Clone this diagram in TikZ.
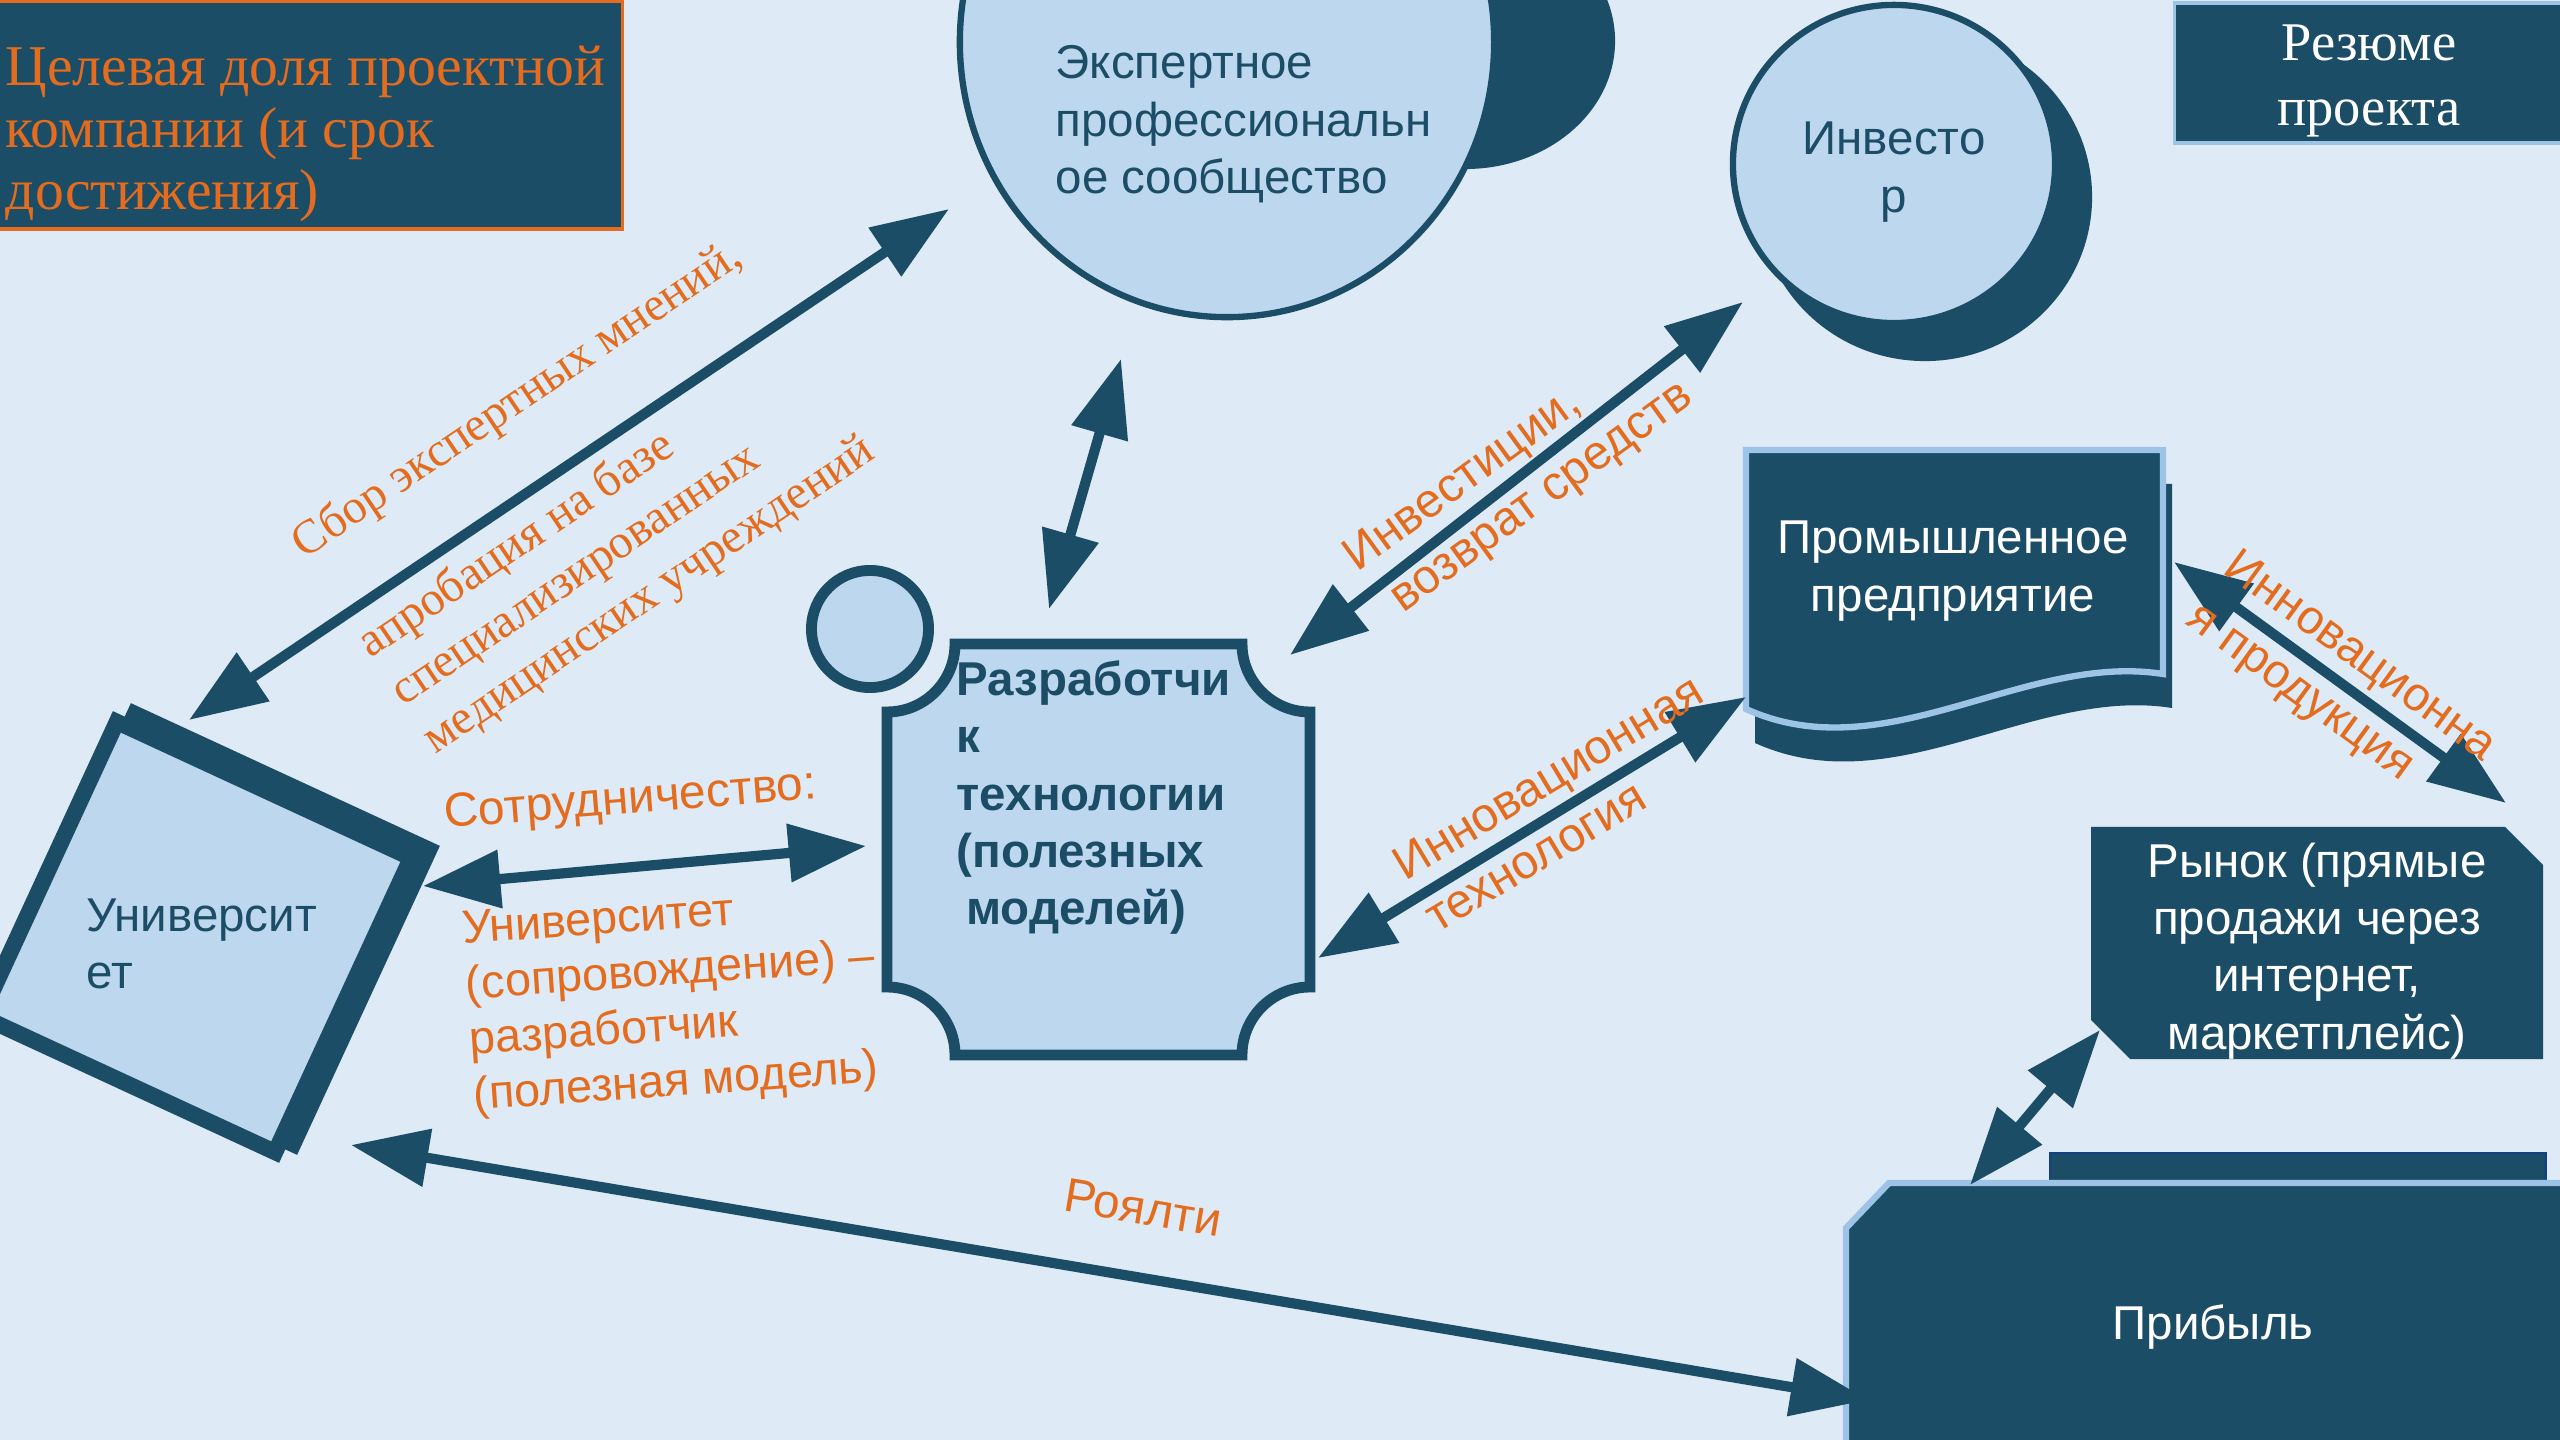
\documentclass[tikz,border=0pt]{standalone}
\usepackage{fontspec}
\setmainfont{Liberation Sans}
\newfontfamily\timesfont{Liberation Serif}
\usetikzlibrary{arrows.meta, shapes.geometric}

\definecolor{bgblue}{RGB}{222,234,246}
\definecolor{deepteal}{RGB}{28,77,102}
\definecolor{paleblue}{RGB}{189,215,238}
\definecolor{labelorange}{RGB}{228,108,30}
\definecolor{edgeblue}{RGB}{157,195,230}

\begin{document}
\begin{tikzpicture}[
    x=0.01cm, y=-0.01cm,
    bubble/.style={ellipse, draw=deepteal, line width=1.8pt, fill=paleblue, inner sep=0pt},
    shade/.style={ellipse, fill=deepteal, inner sep=0pt},
    card/.style={rectangle, fill=deepteal, inner sep=0pt},
    tile/.style={rectangle, draw=deepteal, line width=4.6pt, inner sep=0pt, minimum size=3.24cm, rotate=-24.8},
    body/.style={font=\fontsize{13.5}{16.3}\selectfont, inner sep=0pt},
    flow/.style={font=\fontsize{13.6}{17}\selectfont, text=labelorange, inner sep=0pt, align=left},
    link/.style={line width=2.9pt, draw=deepteal, {Triangle[length=22pt,width=16pt]}-{Triangle[length=22pt,width=16pt]}}
]

% Canvas
\fill[bgblue] (0,0) rectangle (2560,1440);
\useasboundingbox (0,0) rectangle (2560,1440);

% Goal and summary
\node[card, draw=labelorange, line width=0.9pt, minimum width=6.24cm, minimum height=2.28cm] (goal) at (310,115) {};
\node[anchor=north west, inner sep=0pt, align=left, text=labelorange, font=\timesfont\fontsize{16.4}{17.7}\selectfont] (goal-t) at (5,45) {Целевая доля проектной\\компании (и срок\\достижения)};
\node[card, draw=edgeblue, line width=0.9pt, minimum width=3.9cm, minimum height=1.4cm] (sum) at (2370,73) {};
\node[inner sep=0pt, align=center, text=white, font=\timesfont\fontsize{15.5}{18.3}\selectfont] (sum-t) at (2369,81) {Резюме\\проекта};

% Expert community
\node[shade, minimum width=3cm, minimum height=2.56cm] (exp-back) at (1465,41) {};
\node[bubble, minimum width=5.34cm, minimum height=5.5cm] (exp) at (1227,42) {};
\node[body, anchor=north west, align=left, text=deepteal] (exp-t) at (1055,45) {Экспертное\\профессиональн\\ое сообщество};

% Investor
\node[shade, minimum width=3.34cm, minimum height=3.28cm] (inv-back) at (1925,197) {};
\node[bubble, minimum width=3.22cm, minimum height=3.18cm] (inv) at (1894,164) {};
\node[body, text=deepteal, align=center] (inv-t) at (1894,172) {Инвесто\\р};

% University
\node[tile, fill=deepteal] (uni-back) at (214,929) {};
\node[tile, fill=paleblue] (uni) at (196,937) {};
\node[body, anchor=north west, align=left, text=deepteal] (uni-t) at (86,898) {Университ\\ет};

% Developer
\node[circle, draw=deepteal, line width=3.1pt, fill=paleblue, minimum size=1.17cm, inner sep=0pt] (dot) at (870,629) {};
\draw[deepteal, line width=3.1pt, fill=paleblue]
  (955,644) -- (1242,644) arc[start angle=180, end angle=90, radius=68]
  -- (1310,987) arc[start angle=270, end angle=180, radius=68]
  -- (955,1055) arc[start angle=0, end angle=-90, radius=68]
  -- (887,712) arc[start angle=90, end angle=0, radius=68] -- cycle;
\node[body, anchor=north west, align=left, text=deepteal, font=\bfseries\fontsize{13.5}{16.3}\selectfont] (dev) at (956,660) {Разработчи\\к\\технологии\\(полезных\\\hspace*{0.2em}моделей)};

% Industrial enterprise
\fill[deepteal] (1755,484) -- (2172,484) -- (2172,708) .. controls (2033,686) and (1894,806) .. (1755,743) -- cycle;
\draw[edgeblue, line width=1.8pt, fill=deepteal] (1746,450) -- (2163,450) -- (2163,674) .. controls (2024,652) and (1885,772) .. (1746,709) -- cycle;
\node[body, text=white, align=center] (ind) at (1953,571) {Промышленное\\предприятие};

% Market
\fill[deepteal] (2091,827) -- (2505,827) -- (2543,865) -- (2543,1059) -- (2130,1059) -- (2091,1020) -- cycle;
\node[body, text=white, align=center] (mkt) at (2317,951) {Рынок (прямые\\продажи через\\интернет,\\маркетплейс)};

% Profit
\draw[deepteal!80!blue, line width=0.6pt, fill=deepteal] (2050,1153) rectangle (2546,1183);
\draw[edgeblue, line width=1.8pt, fill=deepteal] (1846,1228) -- (1889,1183) -- (2575,1183) -- (2575,1445) -- (1846,1445) -- cycle;
\node[body, text=white] (profit) at (2213,1327) {Прибыль};

% Arrow ends
\coordinate (uni-a1) at (189,720);
\coordinate (exp-a1) at (949,209);
\coordinate (exp-a2) at (1121,359);
\coordinate (dev-a2) at (1049,609);
\coordinate (inv-a3) at (1743,302);
\coordinate (dev-a3) at (1290,655);
\coordinate (ind-a4) at (1746,697);
\coordinate (dev-a4) at (1318,958);
\coordinate (uni-a5) at (423,886);
\coordinate (dev-a5) at (866,846);
\coordinate (uni-a6) at (351,1145);
\coordinate (profit-a6) at (1868,1400);
\coordinate (ind-a7) at (2174,562);
\coordinate (mkt-a7) at (2506,803);
\coordinate (mkt-a8) at (2100,1030);
\coordinate (profit-a8) at (1970,1185);

% Arrows
\draw[link] (uni-a1) -- (exp-a1);
\draw[link] (exp-a2) -- (dev-a2);
\draw[link] (inv-a3) -- (dev-a3);
\draw[link] (ind-a4) -- (dev-a4);
\draw[link] (uni-a5) -- (dev-a5);
\draw[link] (uni-a6) -- (profit-a6);
\draw[link] (ind-a7) -- (mkt-a7);
\draw[link] (mkt-a8) -- (profit-a8);

% Labels
\node[flow, font=\timesfont\fontsize{13.6}{16.5}\selectfont, rotate=34, anchor=north west] (l-expert) at (284,531) {Сбор экспертных мнений,\\[17.5pt]апробация на базе\\специализированных\\медицинских учреждений};
\node[flow, rotate=4.5, anchor=north west] (l-coop) at (442,794) {Сотрудничество:};
\node[flow, rotate=4, anchor=north west, font=\fontsize{13.3}{15.8}\selectfont] (l-coop2) at (460,911) {Университет\\(сопровождение) –\\разработчик\\(полезная модель)};
\node[flow, rotate=36, anchor=north west] (l-inv) at (1337,546) {Инвестиции,\\\hspace*{0.28em}возврат средств};
\node[flow, rotate=31, anchor=north west, font=\fontsize{13.6}{17.4}\selectfont] (l-tech) at (1388,853) {Инновационная\\технология};
\node[flow, rotate=-36, anchor=north west, font=\fontsize{13.5}{18}\selectfont] (l-prod) at (2241,545) {Инновационна\\я продукция};
\node[flow, rotate=-9.5] (l-royal) at (1143,1208) {Роялти};

\end{tikzpicture}
\end{document}
